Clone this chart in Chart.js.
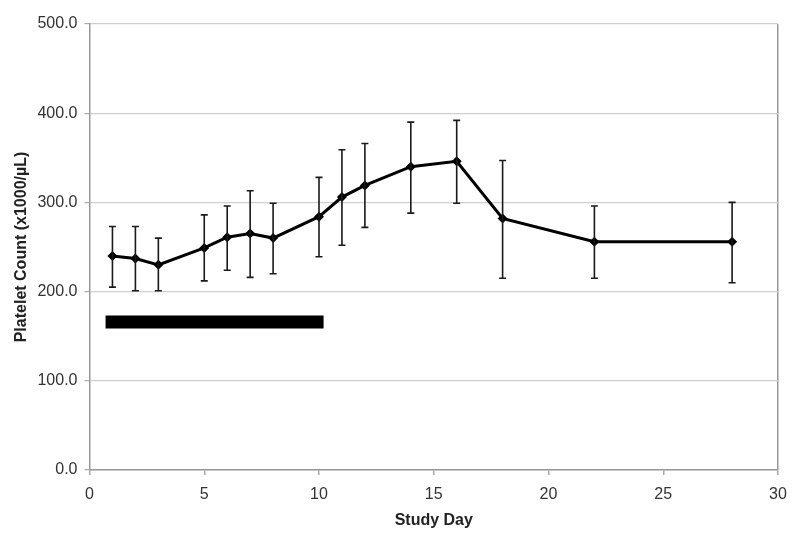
<!DOCTYPE html>
<html>
<head>
<meta charset="utf-8">
<script src="https://cdn.jsdelivr.net/npm/chart.js@4/dist/chart.umd.min.js"></script>
<style>
  html, body { margin: 0; padding: 0; background: #fff; }
  #wrap { width: 800px; height: 540px; }
</style>
</head>
<body>
<div id="wrap"><canvas id="canvas" width="800" height="540"></canvas></div>
<script>
// study days and platelet counts (x1000/uL)
const days = [1, 2, 3, 5, 6, 7, 8, 10, 11, 12, 14, 16, 18, 22, 28]
const meanCount = [240, 237, 230, 249, 261, 265, 260, 284, 306, 319, 340, 346, 282, 256, 256]
const upperCount = [273, 273, 260, 286, 296, 313, 299, 328, 359, 366, 390, 392, 347, 296, 300]
const lowerCount = [205, 201, 201, 212, 224, 216, 220, 239, 252, 272, 288, 299, 215, 215, 210]

// dosing period bar
const barDays = [0.7, 10.2]
const barLevel = [166, 166]

const yTicks = [0, 100, 200, 300, 400, 500]
const xTicks = [0, 5, 10, 15, 20, 25, 30]

const font = "'Liberation Sans', Arial, Helvetica, sans-serif"

const errorBars = {
  id: "errorBars",
  afterDatasetsDraw(chart) {
    const { ctx, scales: { x, y } } = chart
    ctx.save()
    ctx.strokeStyle = "#1a1a1a"
    ctx.lineWidth = 1.6
    days.forEach((d, i) => {
      const px = x.getPixelForValue(d)
      const top = y.getPixelForValue(upperCount[i])
      const bot = y.getPixelForValue(lowerCount[i])
      ctx.beginPath()
      ctx.moveTo(px, top); ctx.lineTo(px, bot)
      ctx.moveTo(px - 3.5, top); ctx.lineTo(px + 3.5, top)
      ctx.moveTo(px - 3.5, bot); ctx.lineTo(px + 3.5, bot)
      ctx.stroke()
    })
    ctx.restore()
  }
}

new Chart(document.getElementById("canvas"), {
  type: "line",
  data: {
    datasets: [
      {
        data: days.map((d, i) => ({ x: d, y: meanCount[i] })),
        borderColor: "#000",
        backgroundColor: "#000",
        borderWidth: 3,
        pointStyle: "rectRot",
        pointRadius: 5,
        pointBorderWidth: 0,
        order: 1
      },
      {
        data: barDays.map((d, i) => ({ x: d, y: barLevel[i] })),
        borderColor: "#000",
        borderWidth: 13,
        borderCapStyle: "butt",
        pointRadius: 0,
        order: 2
      }
    ]
  },
  options: {
    responsive: false,
    animation: false,
    devicePixelRatio: 1,
    layout: { padding: { top: 24, right: 22, left: 0, bottom: 0 } },
    plugins: {
      legend: { display: false },
      tooltip: { enabled: false }
    },
    scales: {
      x: {
        type: "linear",
        min: 0,
        max: 30,
        afterBuildTicks: s => { s.ticks = xTicks.map(v => ({ value: v })) },
        afterFit: s => { s.height = 70 },
        border: { color: "#999", width: 1.5 },
        grid: {
          color: c => c.tick && c.tick.value === 30 ? "#999" : "rgba(0,0,0,0)",
          lineWidth: 1.5,
          tickColor: "#aaa",
          tickLength: 5
        },
        ticks: {
          color: "#333",
          padding: 10,
          font: { family: font, size: 16 },
          maxRotation: 0
        },
        title: {
          display: true,
          text: "Study Day",
          color: "#222",
          font: { family: font, size: 16, weight: "bold" },
          padding: { top: 4, bottom: 10 }
        }
      },
      y: {
        min: 0,
        max: 500,
        afterBuildTicks: s => { s.ticks = yTicks.map(v => ({ value: v })) },
        afterFit: s => { s.width = 89.5 },
        border: { color: "#999", width: 1.5 },
        grid: {
          color: "#cfcfcf",
          lineWidth: 1.2,
          tickColor: "#aaa",
          tickLength: 5
        },
        ticks: {
          color: "#333",
          padding: 7,
          font: { family: font, size: 16 },
          callback: v => v.toFixed(1)
        },
        title: {
          display: true,
          text: "Platelet Count (x1000/µL)",
          color: "#222",
          font: { family: font, size: 16, weight: "bold" },
          padding: { top: 12, bottom: 4 }
        }
      }
    }
  },
  plugins: [errorBars]
})
</script>
</body>
</html>
